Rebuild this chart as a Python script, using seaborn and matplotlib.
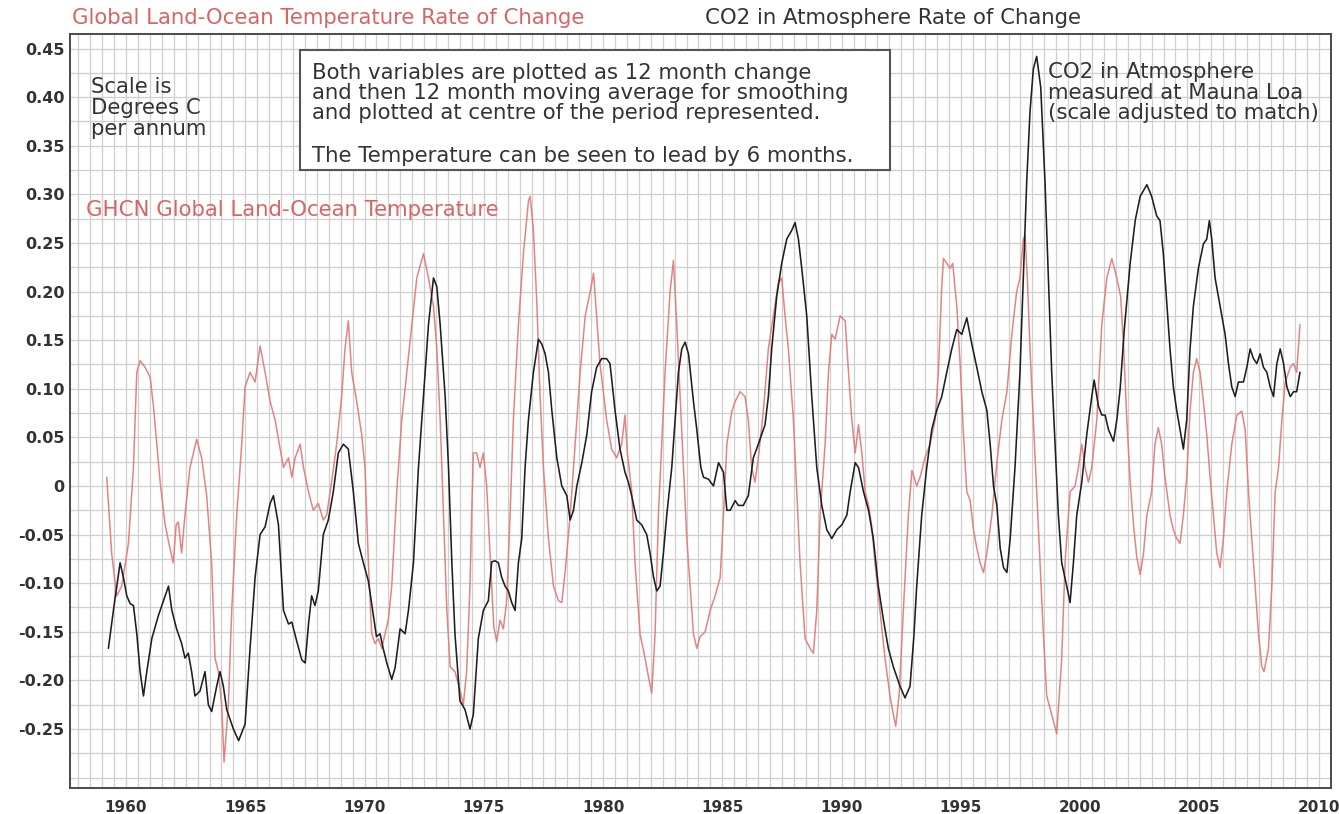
import matplotlib
matplotlib.use("Agg")
import matplotlib.pyplot as plt
import numpy as np
import pandas as pd
import seaborn as sns
from matplotlib.ticker import FixedLocator, MultipleLocator
from matplotlib.patches import Rectangle

# ---------------- data ----------------
temp_years = [
    1959.19, 1959.40, 1959.61, 1959.82, 1960.10, 1960.31, 1960.45, 1960.59, 1960.80, 1961.01,
    1961.15, 1961.29, 1961.43, 1961.64, 1961.84, 1961.98, 1962.10, 1962.19, 1962.33, 1962.47,
    1962.68, 1962.96, 1963.17, 1963.38, 1963.59, 1963.73, 1963.87, 1964.01, 1964.11, 1964.29,
    1964.43, 1964.64, 1964.85, 1964.99, 1965.20, 1965.41, 1965.62, 1965.83, 1966.04, 1966.25,
    1966.39, 1966.60, 1966.81, 1966.95, 1967.09, 1967.30, 1967.44, 1967.65, 1967.85, 1968.06,
    1968.27, 1968.41, 1968.62, 1968.83, 1969.04, 1969.18, 1969.32, 1969.46, 1969.67, 1969.88,
    1970.02, 1970.16, 1970.30, 1970.44, 1970.58, 1970.72, 1970.86, 1971.00, 1971.14, 1971.35,
    1971.56, 1971.77, 1971.98, 1972.19, 1972.47, 1972.68, 1972.89, 1973.03, 1973.17, 1973.31,
    1973.45, 1973.59, 1973.79, 1974.00, 1974.14, 1974.28, 1974.42, 1974.49, 1974.56, 1974.70,
    1974.84, 1974.98, 1975.12, 1975.28, 1975.42, 1975.54, 1975.68, 1975.82, 1975.96, 1976.10,
    1976.24, 1976.45, 1976.66, 1976.87, 1976.94, 1977.08, 1977.22, 1977.36, 1977.50, 1977.71,
    1977.92, 1978.13, 1978.27, 1978.41, 1978.62, 1978.83, 1979.04, 1979.25, 1979.46, 1979.60,
    1979.73, 1979.87, 1980.01, 1980.15, 1980.36, 1980.57, 1980.78, 1980.92, 1981.02, 1981.20,
    1981.34, 1981.55, 1981.76, 1981.90, 1982.04, 1982.18, 1982.32, 1982.46, 1982.60, 1982.81,
    1982.95, 1983.09, 1983.23, 1983.37, 1983.51, 1983.65, 1983.79, 1983.93, 1984.07, 1984.28,
    1984.49, 1984.70, 1984.91, 1985.05, 1985.19, 1985.40, 1985.54, 1985.74, 1985.95, 1986.09,
    1986.23, 1986.37, 1986.51, 1986.72, 1986.93, 1987.14, 1987.35, 1987.49, 1987.63, 1987.77,
    1987.98, 1988.12, 1988.26, 1988.47, 1988.68, 1988.82, 1988.96, 1989.10, 1989.31, 1989.45,
    1989.59, 1989.73, 1989.94, 1990.15, 1990.29, 1990.43, 1990.57, 1990.71, 1990.85, 1990.99,
    1991.13, 1991.26, 1991.40, 1991.61, 1991.82, 1992.03, 1992.17, 1992.27, 1992.41, 1992.59,
    1992.80, 1992.95, 1993.15, 1993.29, 1993.50, 1993.71, 1993.92, 1994.06, 1994.20, 1994.27,
    1994.41, 1994.55, 1994.66, 1994.83, 1994.97, 1995.11, 1995.25, 1995.39, 1995.53, 1995.67,
    1995.81, 1995.95, 1996.09, 1996.30, 1996.51, 1996.72, 1996.93, 1997.14, 1997.34, 1997.48,
    1997.62, 1997.69, 1997.79, 1997.90, 1998.04, 1998.18, 1998.32, 1998.46, 1998.60, 1998.81,
    1999.02, 1999.23, 1999.37, 1999.58, 1999.79, 1999.93, 2000.07, 2000.21, 2000.35, 2000.49,
    2000.70, 2000.91, 2001.12, 2001.33, 2001.54, 2001.70, 2001.82, 2001.96, 2002.10, 2002.24,
    2002.38, 2002.52, 2002.66, 2002.80, 2003.00, 2003.14, 2003.28, 2003.42, 2003.56, 2003.77,
    2003.91, 2004.05, 2004.19, 2004.33, 2004.47, 2004.61, 2004.75, 2004.89, 2005.03, 2005.17,
    2005.31, 2005.45, 2005.59, 2005.73, 2005.87, 2006.01, 2006.15, 2006.36, 2006.57, 2006.78,
    2006.92, 2007.06, 2007.20, 2007.34, 2007.48, 2007.62, 2007.71, 2007.90, 2008.04, 2008.18,
    2008.32, 2008.46, 2008.60, 2008.81, 2008.95, 2009.08, 2009.22,
]
temp_rate = [
    0.009, -0.070, -0.113, -0.103, -0.059, 0.019, 0.117, 0.129, 0.122, 0.112,
    0.082, 0.043, 0.004, -0.040, -0.064, -0.079, -0.040, -0.037, -0.069, -0.030,
    0.019, 0.048, 0.029, -0.010, -0.079, -0.177, -0.191, -0.225, -0.284, -0.225,
    -0.128, -0.030, 0.043, 0.102, 0.117, 0.107, 0.144, 0.117, 0.087, 0.068,
    0.048, 0.019, 0.029, 0.009, 0.029, 0.043, 0.019, -0.006, -0.025, -0.018,
    -0.035, -0.030, 0.004, 0.043, 0.092, 0.141, 0.170, 0.117, 0.087, 0.053,
    0.019, -0.079, -0.152, -0.162, -0.157, -0.167, -0.152, -0.137, -0.103, -0.006,
    0.068, 0.117, 0.166, 0.214, 0.239, 0.214, 0.185, 0.141, 0.068, -0.030,
    -0.128, -0.186, -0.191, -0.210, -0.225, -0.191, -0.103, -0.030, 0.034, 0.034,
    0.019, 0.034, 0.000, -0.079, -0.145, -0.160, -0.138, -0.147, -0.118, -0.030,
    0.068, 0.166, 0.239, 0.293, 0.298, 0.263, 0.190, 0.092, 0.019, -0.054,
    -0.103, -0.118, -0.120, -0.088, -0.030, 0.043, 0.117, 0.175, 0.200, 0.219,
    0.175, 0.126, 0.097, 0.068, 0.038, 0.029, 0.043, 0.073, 0.034, -0.005,
    -0.079, -0.152, -0.177, -0.196, -0.213, -0.152, -0.030, 0.043, 0.117, 0.200,
    0.232, 0.166, 0.092, 0.019, -0.054, -0.103, -0.152, -0.167, -0.155, -0.150,
    -0.128, -0.113, -0.094, -0.030, 0.043, 0.077, 0.087, 0.097, 0.092, 0.068,
    0.019, 0.004, 0.029, 0.077, 0.141, 0.175, 0.209, 0.214, 0.175, 0.141,
    0.068, -0.006, -0.079, -0.157, -0.167, -0.172, -0.128, -0.030, 0.043, 0.117,
    0.156, 0.151, 0.175, 0.170, 0.117, 0.068, 0.034, 0.063, 0.034, -0.006,
    -0.020, -0.040, -0.079, -0.128, -0.177, -0.216, -0.235, -0.247, -0.216, -0.128,
    -0.030, 0.016, 0.000, 0.009, 0.029, 0.043, 0.068, 0.117, 0.205, 0.234,
    0.229, 0.224, 0.229, 0.185, 0.126, 0.053, -0.006, -0.015, -0.045, -0.064,
    -0.079, -0.089, -0.069, -0.030, 0.024, 0.068, 0.097, 0.156, 0.200, 0.214,
    0.254, 0.258, 0.214, 0.141, 0.068, -0.006, -0.079, -0.152, -0.216, -0.235,
    -0.255, -0.177, -0.079, -0.006, 0.000, 0.019, 0.043, 0.019, 0.004, 0.019,
    0.068, 0.166, 0.214, 0.234, 0.214, 0.195, 0.146, 0.068, 0.004, -0.040,
    -0.074, -0.091, -0.069, -0.030, -0.006, 0.043, 0.060, 0.043, 0.009, -0.030,
    -0.045, -0.054, -0.059, -0.030, 0.009, 0.077, 0.117, 0.131, 0.117, 0.087,
    0.053, 0.009, -0.030, -0.069, -0.084, -0.054, -0.006, 0.043, 0.073, 0.077,
    0.058, -0.006, -0.054, -0.103, -0.152, -0.186, -0.191, -0.167, -0.103, -0.006,
    0.019, 0.068, 0.107, 0.122, 0.126, 0.117, 0.166,
]

co2_years = [
    1959.26, 1959.47, 1959.75, 1959.89, 1960.03, 1960.17, 1960.31, 1960.45, 1960.59, 1960.73,
    1960.87, 1961.08, 1961.36, 1961.57, 1961.78, 1961.92, 1962.12, 1962.33, 1962.47, 1962.61,
    1962.75, 1962.89, 1963.10, 1963.31, 1963.45, 1963.59, 1963.80, 1963.94, 1964.08, 1964.22,
    1964.50, 1964.72, 1964.99, 1965.20, 1965.41, 1965.62, 1965.83, 1966.04, 1966.18, 1966.39,
    1966.60, 1966.81, 1966.95, 1967.16, 1967.37, 1967.51, 1967.65, 1967.78, 1967.92, 1968.06,
    1968.27, 1968.48, 1968.69, 1968.90, 1969.11, 1969.32, 1969.53, 1969.74, 1969.95, 1970.16,
    1970.35, 1970.50, 1970.65, 1970.78, 1970.93, 1971.14, 1971.28, 1971.49, 1971.70, 1971.84,
    1972.05, 1972.26, 1972.47, 1972.68, 1972.89, 1973.03, 1973.17, 1973.38, 1973.52, 1973.66,
    1973.79, 1974.00, 1974.21, 1974.42, 1974.56, 1974.77, 1974.98, 1975.19, 1975.33, 1975.47,
    1975.61, 1975.75, 1975.89, 1976.03, 1976.17, 1976.31, 1976.45, 1976.59, 1976.73, 1976.87,
    1977.08, 1977.29, 1977.43, 1977.57, 1977.71, 1977.85, 1978.06, 1978.27, 1978.48, 1978.62,
    1978.76, 1978.90, 1979.11, 1979.32, 1979.52, 1979.73, 1979.94, 1980.15, 1980.29, 1980.50,
    1980.71, 1980.92, 1981.06, 1981.20, 1981.41, 1981.62, 1981.83, 1981.97, 1982.11, 1982.25,
    1982.39, 1982.53, 1982.67, 1982.88, 1983.02, 1983.16, 1983.30, 1983.44, 1983.58, 1983.79,
    1983.93, 1984.10, 1984.21, 1984.42, 1984.63, 1984.84, 1985.05, 1985.19, 1985.33, 1985.54,
    1985.67, 1985.88, 1986.09, 1986.30, 1986.51, 1986.65, 1986.79, 1986.93, 1987.07, 1987.28,
    1987.49, 1987.70, 1987.91, 1988.05, 1988.19, 1988.33, 1988.54, 1988.75, 1988.96, 1989.17,
    1989.38, 1989.59, 1989.80, 1990.01, 1990.22, 1990.36, 1990.57, 1990.71, 1990.92, 1991.13,
    1991.33, 1991.54, 1991.75, 1991.96, 1992.17, 1992.45, 1992.66, 1992.87, 1993.03, 1993.15,
    1993.36, 1993.57, 1993.78, 1993.99, 1994.20, 1994.41, 1994.62, 1994.83, 1995.04, 1995.25,
    1995.46, 1995.67, 1995.88, 1996.09, 1996.23, 1996.37, 1996.51, 1996.65, 1996.79, 1996.93,
    1997.07, 1997.27, 1997.48, 1997.62, 1997.76, 1997.90, 1998.04, 1998.18, 1998.35, 1998.53,
    1998.67, 1998.81, 1998.95, 1999.09, 1999.23, 1999.44, 1999.58, 1999.72, 1999.86, 2000.07,
    2000.28, 2000.49, 2000.59, 2000.77, 2000.91, 2001.05, 2001.19, 2001.40, 2001.54, 2001.68,
    2001.85, 2002.10, 2002.31, 2002.52, 2002.80, 2003.00, 2003.21, 2003.35, 2003.49, 2003.63,
    2003.77, 2003.91, 2004.05, 2004.19, 2004.33, 2004.47, 2004.61, 2004.75, 2004.96, 2005.17,
    2005.31, 2005.42, 2005.52, 2005.66, 2005.87, 2006.08, 2006.22, 2006.36, 2006.50, 2006.64,
    2006.85, 2006.99, 2007.13, 2007.27, 2007.41, 2007.55, 2007.69, 2007.83, 2007.97, 2008.11,
    2008.25, 2008.39, 2008.53, 2008.67, 2008.81, 2008.95, 2009.08, 2009.22,
]
co2_rate = [
    -0.167, -0.128, -0.079, -0.094, -0.113, -0.121, -0.123, -0.152, -0.191, -0.216,
    -0.191, -0.157, -0.133, -0.118, -0.103, -0.128, -0.147, -0.162, -0.177, -0.172,
    -0.191, -0.216, -0.211, -0.191, -0.225, -0.232, -0.206, -0.191, -0.206, -0.230,
    -0.250, -0.262, -0.245, -0.167, -0.094, -0.050, -0.042, -0.018, -0.010, -0.040,
    -0.128, -0.142, -0.140, -0.160, -0.179, -0.182, -0.142, -0.113, -0.123, -0.108,
    -0.050, -0.035, -0.006, 0.034, 0.043, 0.038, -0.006, -0.059, -0.079, -0.098,
    -0.130, -0.155, -0.152, -0.167, -0.182, -0.199, -0.187, -0.147, -0.152, -0.128,
    -0.079, 0.019, 0.092, 0.166, 0.214, 0.205, 0.166, 0.092, 0.019, -0.079,
    -0.152, -0.221, -0.230, -0.250, -0.235, -0.157, -0.128, -0.118, -0.078, -0.077,
    -0.079, -0.094, -0.103, -0.108, -0.120, -0.128, -0.079, -0.054, 0.019, 0.068,
    0.117, 0.151, 0.146, 0.136, 0.117, 0.078, 0.029, 0.000, -0.010, -0.035,
    -0.025, 0.000, 0.024, 0.053, 0.097, 0.122, 0.131, 0.131, 0.126, 0.078,
    0.038, 0.014, 0.004, -0.010, -0.035, -0.040, -0.050, -0.069, -0.093, -0.108,
    -0.103, -0.069, -0.030, 0.019, 0.068, 0.117, 0.141, 0.148, 0.136, 0.087,
    0.058, 0.019, 0.009, 0.007, 0.000, 0.024, 0.014, -0.025, -0.025, -0.015,
    -0.020, -0.020, -0.010, 0.029, 0.043, 0.053, 0.063, 0.092, 0.141, 0.195,
    0.229, 0.254, 0.263, 0.271, 0.254, 0.224, 0.175, 0.092, 0.019, -0.020,
    -0.045, -0.054, -0.045, -0.040, -0.030, -0.006, 0.024, 0.019, -0.006, -0.025,
    -0.054, -0.103, -0.137, -0.167, -0.186, -0.206, -0.218, -0.206, -0.155, -0.103,
    -0.030, 0.019, 0.058, 0.078, 0.092, 0.117, 0.141, 0.161, 0.156, 0.173,
    0.146, 0.122, 0.097, 0.078, 0.043, 0.000, -0.020, -0.064, -0.084, -0.089,
    -0.054, 0.019, 0.117, 0.214, 0.312, 0.385, 0.429, 0.442, 0.410, 0.312,
    0.214, 0.117, 0.043, -0.030, -0.079, -0.103, -0.120, -0.079, -0.030, 0.004,
    0.053, 0.092, 0.109, 0.082, 0.073, 0.073, 0.058, 0.046, 0.068, 0.100,
    0.160, 0.229, 0.273, 0.298, 0.310, 0.298, 0.278, 0.273, 0.239, 0.190,
    0.141, 0.102, 0.078, 0.058, 0.038, 0.068, 0.141, 0.185, 0.224, 0.249,
    0.254, 0.273, 0.254, 0.214, 0.185, 0.156, 0.126, 0.102, 0.092, 0.107,
    0.107, 0.122, 0.141, 0.131, 0.126, 0.136, 0.122, 0.117, 0.102, 0.092,
    0.126, 0.141, 0.126, 0.102, 0.092, 0.097, 0.097, 0.117,
]

x_tick_values = [1960, 1965, 1970, 1975, 1980, 1985, 1990, 1995, 2000, 2005, 2010]
x_tick_labels = ["1960", "1965", "1970", "1975", "1980", "1985", "1990", "1995", "2000", "2005", "2010"]
y_tick_values = [0.45, 0.40, 0.35, 0.30, 0.25, 0.20, 0.15, 0.10, 0.05, 0.0,
                 -0.05, -0.10, -0.15, -0.20, -0.25]
y_tick_labels = ["0.45", "0.40", "0.35", "0.30", "0.25", "0.20", "0.15", "0.10", "0.05", "0",
                 "-0.05", "-0.10", "-0.15", "-0.20", "-0.25"]

title_temp = "Global Land-Ocean Temperature Rate of Change"
title_co2 = "CO2 in Atmosphere Rate of Change"
scale_note = ["Scale is", "Degrees C", "per annum"]
box_lines = ["Both variables are plotted as 12 month change",
             "and then 12 month moving average for smoothing",
             "and plotted at centre of the period represented.",
             "The Temperature can be seen to lead by 6 months."]
temp_label = "GHCN Global Land-Ocean Temperature"
co2_note = ["CO2 in Atmosphere", "measured at Mauna Loa", "(scale adjusted to match)"]

# ---------------- style ----------------
RED_TEXT = "#d86464"
RED_LINE = "#e07777"
DARK = "#333333"
GRID = "#cfcfcf"

sns.set_theme(style="white")
plt.rcParams["font.family"] = ["DejaVu Sans"]

W, H = 1339, 814
fig = plt.figure(figsize=(W / 100, H / 100), dpi=100)
fig.patch.set_facecolor("white")


def fx(px):
    return px / W


def fy(py):
    return 1 - py / H


ax = fig.add_axes([fx(70), fy(788), fx(1331) - fx(70), fy(34) - fy(788)])
ax.set_facecolor("white")

temp_df = pd.DataFrame({"year": temp_years, "rate": temp_rate})
co2_df = pd.DataFrame({"year": co2_years, "rate": co2_rate})

sns.lineplot(data=temp_df, x="year", y="rate", ax=ax, color=RED_LINE, linewidth=1.1,
             alpha=0.9, estimator=None, sort=False, zorder=3)
sns.lineplot(data=co2_df, x="year", y="rate", ax=ax, color="#1e1e1e", linewidth=1.15,
             estimator=None, sort=False, zorder=4)

ax.set_xlim(1957.65, 2010.52)
ax.set_ylim(-0.3107, 0.465)
ax.set_xlabel("")
ax.set_ylabel("")

ax.xaxis.set_major_locator(FixedLocator(x_tick_values))
ax.set_xticklabels(x_tick_labels)
ax.xaxis.set_minor_locator(MultipleLocator(0.5))
ax.yaxis.set_major_locator(FixedLocator(y_tick_values))
ax.set_yticklabels(y_tick_labels)
ax.yaxis.set_minor_locator(MultipleLocator(0.025))

ax.grid(which="both", color=GRID, linewidth=0.9)
ax.set_axisbelow(True)

for sp in ax.spines.values():
    sp.set_visible(True)
    sp.set_color("#4a4a4a")
    sp.set_linewidth(1.4)

ax.tick_params(axis="y", which="major", direction="in", length=10, width=1.1,
               color="#555555", pad=4, labelsize=11.5, labelcolor=DARK)
ax.tick_params(axis="y", which="minor", direction="in", length=6, width=1.0, color="#666666")
ax.tick_params(axis="x", which="major", direction="in", length=8, width=1.1,
               color="#555555", pad=9, labelsize=11, labelcolor=DARK)
ax.tick_params(axis="x", which="minor", direction="in", length=4, width=1.0, color="#666666")
for lab in ax.get_xticklabels() + ax.get_yticklabels():
    lab.set_fontweight("bold")

# ---------------- texts ----------------
FS = 15.3
fig.text(fx(72), fy(18), title_temp, color=RED_TEXT, fontsize=FS, va="center", ha="left")
fig.text(fx(705), fy(18), title_co2, color=DARK, fontsize=FS, va="center", ha="left")

for txt, py in zip(scale_note, [87, 108, 129]):
    fig.text(fx(91), fy(py), txt, color=DARK, fontsize=FS, va="center", ha="left", zorder=6)

box = Rectangle((fx(300), fy(170)), fx(890) - fx(300), fy(50) - fy(170),
                transform=fig.transFigure, facecolor="white", edgecolor="#555555",
                linewidth=1.5, zorder=5)
fig.add_artist(box)
for txt, py in zip(box_lines, [73, 93, 113, 156]):
    fig.text(fx(312), fy(py), txt, color=DARK, fontsize=FS, va="center", ha="left", zorder=6)

fig.text(fx(86), fy(210), temp_label, color=RED_TEXT, fontsize=FS, va="center", ha="left", zorder=6)

for txt, py in zip(co2_note, [72, 93, 113]):
    fig.text(fx(1048), fy(py), txt, color=DARK, fontsize=FS, va="center", ha="left", zorder=6)

fig.savefig("out.png", dpi=100, facecolor="white")
